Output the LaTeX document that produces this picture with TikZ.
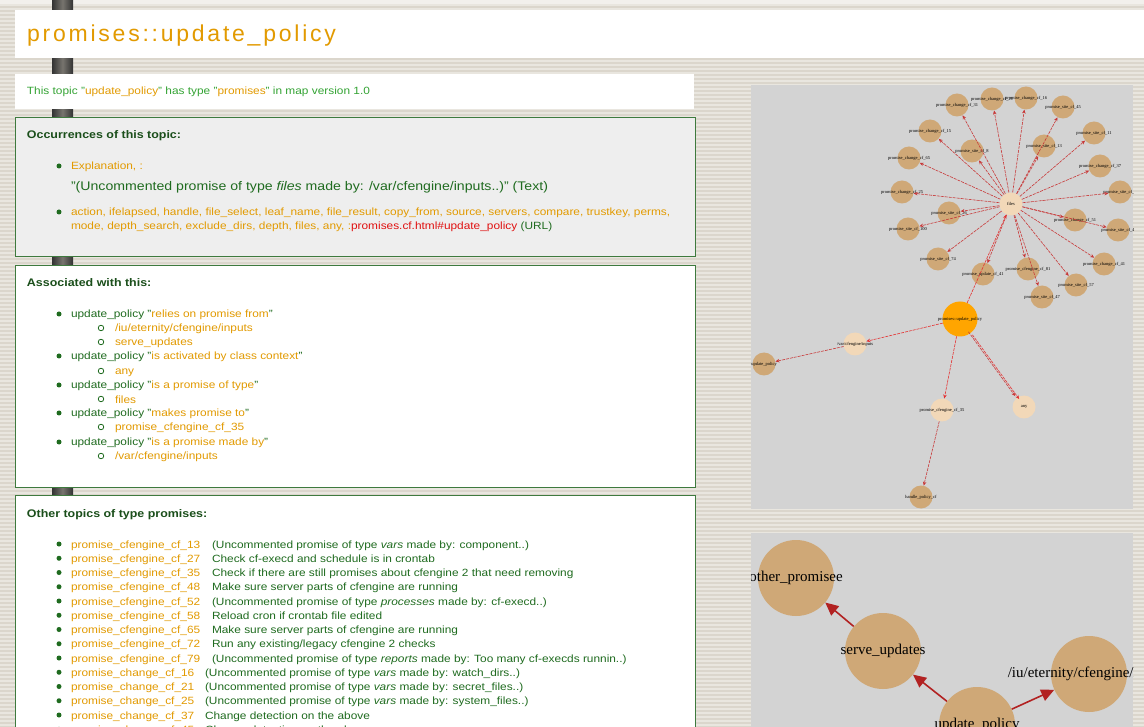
\documentclass[tikz,border=0pt]{standalone}
\usepackage{fontspec}
\setmainfont[FakeStretch=1.13]{Liberation Sans}
\newfontfamily\gserif{Liberation Serif}
\newfontfamily\ttlfont[LetterSpace=12]{Liberation Sans}
\usetikzlibrary{arrows.meta}
\definecolor{bgc}{HTML}{E9E6DF}
\definecolor{stripec}{HTML}{DBD6CC}
\definecolor{lgreen}{HTML}{33A333}
\definecolor{dgreen}{HTML}{1F6B1F}
\definecolor{hgreen}{HTML}{1B4F1B}
\definecolor{orng}{HTML}{E29A00}
\definecolor{lnk}{HTML}{E01010}
\definecolor{boxborder}{HTML}{3E7A3E}
\definecolor{panel}{HTML}{D3D3D3}
\definecolor{tanc}{HTML}{CFA877}
\definecolor{peach}{HTML}{F2D8B8}
\definecolor{orangenode}{HTML}{FFA500}
\definecolor{edgered}{HTML}{C83838}
\definecolor{brightred}{HTML}{E43030}
\definecolor{bigarrow}{HTML}{B22222}
\definecolor{boxgray}{HTML}{EEEEEE}
\definecolor{pill}{HTML}{333333}
\definecolor{pillmid}{HTML}{77746E}
\newcommand\bodyf{\fontsize{10.5}{12}\selectfont}
\newcommand\headf{\fontsize{11}{13}\selectfont}
\newcommand\quotef{\fontsize{12.5}{14}\selectfont}
\newcommand\glabf{\gserif\fontsize{4.5}{5}\selectfont}
\newcommand\topicrow[5]{%
  \node[bul] (tb#1) at (59,#2) {};
  \node[otxt] (tn#1) at (71,#2+4) {#3};
  \node[txt] (td#1) at (#4,#2+4) {#5};}
\tikzset{
  txt/.style={anchor=base west, inner sep=0pt, outer sep=0pt, font=\bodyf, text=dgreen},
  otxt/.style={txt, text=orng},
  headtxt/.style={txt, font=\headf\bfseries, text=hgreen},
  bul/.style={circle, fill=dgreen, inner sep=0pt, minimum size=5pt},
  sbul/.style={circle, draw=dgreen, line width=0.8pt, inner sep=0pt, minimum size=5.5pt},
  boxframe/.style={draw=boxborder, line width=1pt},
  glab/.style={font=\glabf, text=black, inner sep=0pt},
  gout/.style={circle, fill=tanc, inner sep=0pt, minimum size=23pt},
  gpeach/.style={circle, fill=peach, inner sep=0pt, minimum size=23pt},
  gedge/.style={draw=edgered, line width=0.6pt, dash pattern=on 3pt off 1pt, -{Stealth[length=4pt,width=3.5pt]}},
  gedgeb/.style={gedge, draw=brightred},
  bignode/.style={circle, fill=tanc, inner sep=0pt, minimum size=76pt},
  biglab/.style={font=\gserif\fontsize{15}{15}\selectfont, text=black, inner sep=0pt},
  bigedge/.style={draw=bigarrow, line width=1.6pt, -{Triangle[length=13pt,width=12pt]}}
}
\begin{document}
\begin{tikzpicture}[x=1pt,y=-1pt]
\useasboundingbox (0,0) rectangle (1144,727);
\begin{scope}
\clip (0,0) rectangle (1144,727);
% background with stripes
\fill[bgc] (0,0) rectangle (1144,727);
\foreach \yy in {7,11,...,727} \draw[stripec, line width=1.2pt] (0,\yy) -- (1144,\yy);
\fill[bgc!60!white] (0,0) rectangle (1144,4);
% pillar
\shade[left color=pill, right color=pill, middle color=pillmid] (52,0) rectangle (73,727);
% title box
\fill[white] (15,10) rectangle (1144,58);
\node[anchor=base west, inner sep=0pt, font=\ttlfont\fontsize{23}{26}\selectfont, text=orng] (title) at (27,42) {promises::update\_policy};
% info box
\fill[white] (15,74) rectangle (694,109);
\node[txt, text=lgreen] (info) at (27,95) {This topic "{\color{orng}update\_policy}" has type "{\color{orng}promises}" in map version 1.0};
% occurrences box
\filldraw[fill=boxgray, boxframe] (15.5,117.5) rectangle (695.5,256.5);
\node[headtxt] (h1) at (27,139) {Occurrences of this topic:};
\node[bul] (ob1) at (59,166) {};
\node[otxt] (ot1) at (71,170) {Explanation, :};
\node[txt, font=\quotef] (oq) at (71,191) {"(Uncommented promise of type \textit{files} made by: /var/cfengine/inputs..)" (Text)};
\node[bul] (ob2) at (59,212) {};
\node[otxt] (ot2) at (71,216) {action, ifelapsed, handle, file\_select, leaf\_name, file\_result, copy\_from, source, servers, compare, trustkey, perms,};
\node[otxt] (ot3) at (71,230) {mode, depth\_search, exclude\_dirs, depth, files, any, :{\color{lnk}promises.cf.html\#update\_policy} {\color{dgreen}(URL)}};
% associated box
\filldraw[fill=white, boxframe] (15.5,265.5) rectangle (695.5,487.5);
\node[headtxt] (h2) at (27,287) {Associated with this:};
\node[bul] (ab1) at (59,314) {};
\node[txt] (at1) at (71,318) {update\_policy "{\color{orng}relies on promise from}"};
\node[sbul] (as1) at (101,328) {};
\node[otxt] (ast1) at (115,332) {/iu/eternity/cfengine/inputs};
\node[sbul] (as2) at (101,342) {};
\node[otxt] (ast2) at (115,346) {serve\_updates};
\node[bul] (ab2) at (59,356) {};
\node[txt] (at2) at (71,360) {update\_policy "{\color{orng}is activated by class context}"};
\node[sbul] (as3) at (101,371) {};
\node[otxt] (ast3) at (115,375) {any};
\node[bul] (ab3) at (59,385) {};
\node[txt] (at3) at (71,389) {update\_policy "{\color{orng}is a promise of type}"};
\node[sbul] (as4) at (101,399) {};
\node[otxt] (ast4) at (115,403) {files};
\node[bul] (ab4) at (59,413) {};
\node[txt] (at4) at (71,417) {update\_policy "{\color{orng}makes promise to}"};
\node[sbul] (as5) at (101,427) {};
\node[otxt] (ast5) at (115,431) {promise\_cfengine\_cf\_35};
\node[bul] (ab5) at (59,442) {};
\node[txt] (at5) at (71,446) {update\_policy "{\color{orng}is a promise made by}"};
\node[sbul] (as6) at (101,456) {};
\node[otxt] (ast6) at (115,460) {/var/cfengine/inputs};
% other topics box
\filldraw[fill=white, boxframe] (15.5,495.5) rectangle (695.5,740);
\node[headtxt] (h3) at (27,517) {Other topics of type promises:};
\topicrow{1}{544}{promise\_cfengine\_cf\_13}{212}{(Uncommented promise of type \textit{vars} made by: component..)}
\topicrow{2}{558.25}{promise\_cfengine\_cf\_27}{212}{Check cf-execd and schedule is in crontab}
\topicrow{3}{572.5}{promise\_cfengine\_cf\_35}{212}{Check if there are still promises about cfengine 2 that need removing}
\topicrow{4}{586.75}{promise\_cfengine\_cf\_48}{212}{Make sure server parts of cfengine are running}
\topicrow{5}{601}{promise\_cfengine\_cf\_52}{212}{(Uncommented promise of type \textit{processes} made by: cf-execd..)}
\topicrow{6}{615.25}{promise\_cfengine\_cf\_58}{212}{Reload cron if crontab file edited}
\topicrow{7}{629.5}{promise\_cfengine\_cf\_65}{212}{Make sure server parts of cfengine are running}
\topicrow{8}{643.75}{promise\_cfengine\_cf\_72}{212}{Run any existing/legacy cfengine 2 checks}
\topicrow{9}{658}{promise\_cfengine\_cf\_79}{212}{(Uncommented promise of type \textit{reports} made by: Too many cf-execds runnin..)}
\topicrow{10}{672.25}{promise\_change\_cf\_16}{205}{(Uncommented promise of type \textit{vars} made by: watch\_dirs..)}
\topicrow{11}{686.5}{promise\_change\_cf\_21}{205}{(Uncommented promise of type \textit{vars} made by: secret\_files..)}
\topicrow{12}{700.75}{promise\_change\_cf\_25}{205}{(Uncommented promise of type \textit{vars} made by: system\_files..)}
\topicrow{13}{715}{promise\_change\_cf\_37}{205}{Change detection on the above}
\topicrow{14}{729.25}{promise\_change\_cf\_45}{205}{Change detection on the above}
% upper graph panel
\fill[panel] (751,85) rectangle (1133,509);
\begin{scope}
\clip (751,85) rectangle (1133,509);
\node[gpeach, label={[glab]center:files}] (c) at (1011,204) {};
\node[gout, label={[glab]center:promise\_change\_cf\_31}] (o1) at (957,105) {};
\node[gout, label={[glab]center:promise\_change\_cf\_21}] (o2) at (992,99) {};
\node[gout, label={[glab]center:promise\_change\_cf\_16}] (o3) at (1026,98) {};
\node[gout, label={[glab]center:promise\_site\_cf\_45}] (o4) at (1063,107) {};
\node[gout, label={[glab]center:promise\_change\_cf\_15}] (o5) at (930,131) {};
\node[gout, label={[glab]center:promise\_site\_cf\_11}] (o6) at (1094,133) {};
\node[gout, label={[glab]center:promise\_site\_cf\_8}] (o7) at (972,151) {};
\node[gout, label={[glab]center:promise\_site\_cf\_13}] (o8) at (1044,146) {};
\node[gout, label={[glab]center:promise\_change\_cf\_65}] (o9) at (909,158) {};
\node[gout, label={[glab]center:promise\_change\_cf\_37}] (o10) at (1100,166) {};
\node[gout, label={[glab]center:promise\_change\_cf\_25}] (o11) at (902,192) {};
\node[gout, label={[glab]center:promise\_site\_cf\_3}] (o12) at (1120,192) {};
\node[gout, label={[glab]center:promise\_site\_cf\_26}] (o13) at (949,213) {};
\node[gout, label={[glab]center:promise\_site\_cf\_100}] (o14) at (908,229) {};
\node[gout, label={[glab]center:promise\_change\_cf\_51}] (o15) at (1075,220) {};
\node[gout, label={[glab]center:promise\_site\_cf\_4}] (o16) at (1118,230) {};
\node[gout, label={[glab]center:promise\_site\_cf\_74}] (o17) at (938,259) {};
\node[gout, label={[glab]center:promise\_change\_cf\_41}] (o18) at (1104,264) {};
\node[gout, label={[glab]center:promise\_update\_cf\_41}] (o19) at (983,274) {};
\node[gout, label={[glab]center:promise\_cfengine\_cf\_81}] (o20) at (1028,269) {};
\node[gout, label={[glab]center:promise\_site\_cf\_57}] (o21) at (1076,285) {};
\node[gout, label={[glab]center:promise\_site\_cf\_47}] (o22) at (1042,297) {};
\node[circle, fill=orangenode, inner sep=0pt, minimum size=35pt, label={[glab]center:promises::update\_policy}] (or) at (960,319) {};
\node[gpeach, label={[glab]center:/var/cfengine/inputs}] (pl) at (855,344) {};
\node[gout, label={[glab]center:update\_policy}] (ll) at (764,364) {};
\node[gpeach, label={[glab]center:promise\_cfengine\_cf\_35}] (pb) at (942,410) {};
\node[gpeach, label={[glab]center:any}] (pr) at (1024,407) {};
\node[gout, label={[glab]center:handle\_policy\_cf}] (bb) at (921,497) {};
\foreach \k in {1,...,22} \draw[gedge] (c) -- (o\k);
\draw[gedgeb] (or) -- (c);
\draw[gedgeb] (or) -- (pl);
\draw[gedge] (pl) -- (ll);
\draw[gedgeb] (or) -- (pb);
\draw[gedge] (pb) -- (bb);
\draw[gedgeb, transform canvas={xshift=2pt,yshift=-1.5pt}] (or) -- (pr);
\draw[gedge, transform canvas={xshift=-2pt,yshift=1.5pt}] (or) -- (pr);
\end{scope}
% lower graph panel
\fill[panel] (751,533) rectangle (1133,740);
\begin{scope}
\clip (751,533) rectangle (1133,727);
\node[bignode, label={[biglab]center:other\_promisee}] (lo1) at (796,578) {};
\node[bignode, label={[biglab]center:serve\_updates}] (lo2) at (883,651) {};
\node[bignode, label={[biglab]center:/iu/eternity/cfengine/inputs}] (lo3) at (1089,674) {};
\node[bignode, label={[biglab]center:update\_policy}] (lo4) at (977,725) {};
\draw[bigedge] (lo4) -- (lo2);
\draw[bigedge] (lo2) -- (lo1);
\draw[bigedge] (lo4) -- (lo3);
\end{scope}
\end{scope}
\end{tikzpicture}
\end{document}
